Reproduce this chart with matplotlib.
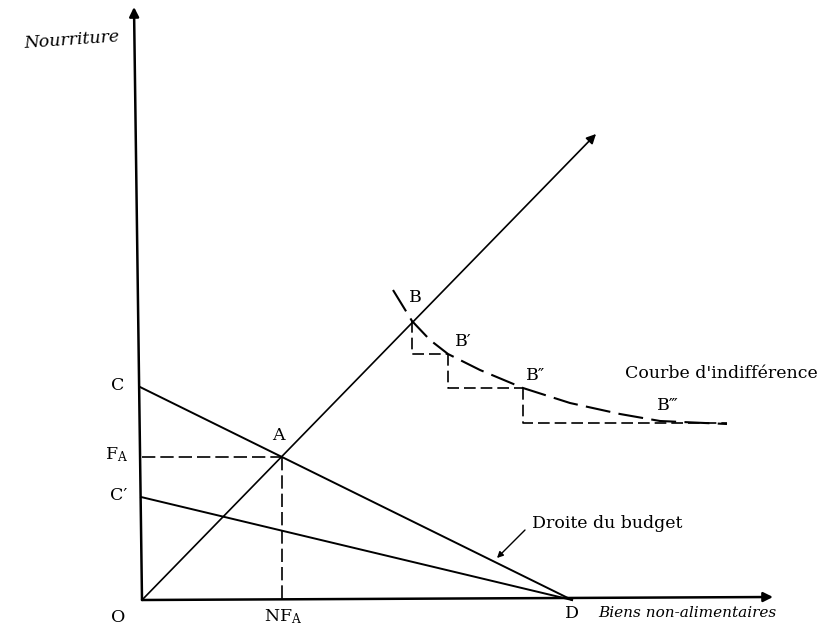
import matplotlib
matplotlib.use("Agg")
import matplotlib.pyplot as plt

plt.rcParams['font.family'] = ['DejaVu Serif']
plt.rcParams['mathtext.fontset'] = 'dejavuserif'

# points of the diagram (origin at O)
x_axis_end = (631, 3)
y_axis_end = (-8, 593)
point_c = (-2, 213)
point_c2 = (-1, 103)
point_a = (140, 143)
point_d = (430, 0)
ray_end = (454, 466)

# indifference curve
curve_x = [251, 270, 288, 306, 338, 381, 428, 478, 518, 585]
curve_y = [310, 279, 260, 246, 230, 212, 197, 186, 179, 176]

# B, B', B'', B''' and the steps between them
b_x = [270, 306, 381]
b_y = [279, 246, 212]
last_step_end = 585
last_step_y = 177

fig = plt.figure(figsize=(8.32, 6.29), dpi=100)
ax = fig.add_axes([0, 0, 1, 1])
ax.set_xlim(-142, 690)
ax.set_ylim(-29, 600)
ax.axis("off")

# axes with arrows
arrow_kw = dict(arrowstyle='-|>', lw=1.8, color='black', mutation_scale=14, shrinkA=0, shrinkB=0)
ax.annotate('', xy=x_axis_end, xytext=(0, 0), arrowprops=arrow_kw)
ax.annotate('', xy=y_axis_end, xytext=(0, 0), arrowprops=arrow_kw)

# ray from the origin through A
ray_kw = dict(arrowstyle='-|>', lw=1.2, color='black', mutation_scale=14, shrinkA=0, shrinkB=0)
ax.annotate('', xy=ray_end, xytext=(0, 0), arrowprops=ray_kw)

# budget lines
ax.plot([point_c[0], point_d[0]], [point_c[1], point_d[1]], color='black', lw=1.4)
ax.plot([point_c2[0], point_d[0]], [point_c2[1], point_d[1]], color='black', lw=1.4)

# dashed guides to A
ax.plot([0, point_a[0]], [point_a[1], point_a[1]], color='black', lw=1.2, dashes=(8, 3))
ax.plot([point_a[0], point_a[0]], [point_a[1], 0], color='black', lw=1.2, dashes=(8, 3))

# indifference curve
ax.plot(curve_x, curve_y, color='black', lw=1.5, dashes=(12, 4))

# steps B -> B' -> B'' -> B'''
for i in range(len(b_x)):
    x0, y0 = b_x[i], b_y[i]
    if i + 1 < len(b_x):
        x1, y1 = b_x[i + 1], b_y[i + 1]
    else:
        x1, y1 = last_step_end, last_step_y
    ax.plot([x0, x0, x1], [y0, y1, y1], color='black', lw=1.2, dashes=(7, 3))

# labels
fs = 12.5
ax.text(-70, 560, 'Nourriture', fontsize=fs, style='italic', ha='center', va='center', rotation=4)
ax.text(456, -13, 'Biens non-alimentaires', fontsize=11, style='italic', ha='left', va='center')
ax.text(-24, -18, 'O', fontsize=fs, ha='center', va='center')
ax.text(141, -17, r'NF$_\mathrm{A}$', fontsize=fs, ha='center', va='center')
ax.text(430, -13, 'D', fontsize=fs, ha='center', va='center')
ax.text(-24, 214, 'C', fontsize=fs, ha='center', va='center')
ax.text(-25, 145, r'F$_\mathrm{A}$', fontsize=fs, ha='center', va='center')
ax.text(-23, 105, "C\u2032", fontsize=fs, ha='center', va='center')
ax.text(136, 165, 'A', fontsize=fs, ha='center', va='center')
ax.text(273, 303, 'B', fontsize=fs, ha='center', va='center')
ax.text(321, 258, 'B\u2032', fontsize=fs, ha='center', va='center')
ax.text(394, 224, 'B\u2033', fontsize=fs, ha='center', va='center')
ax.text(526, 195, 'B\u2034', fontsize=fs, ha='center', va='center')
ax.text(579, 227, "Courbe d'indifférence", fontsize=fs, ha='center', va='center')
ax.text(390, 77, 'Droite du budget', fontsize=fs, ha='left', va='center')

# pointer to the budget line
ax.annotate('', xy=(355, 42), xytext=(383, 70),
            arrowprops=dict(arrowstyle='-|>', lw=1.0, color='black', mutation_scale=9, shrinkA=0, shrinkB=0))

plt.savefig("out.png", dpi=100)
